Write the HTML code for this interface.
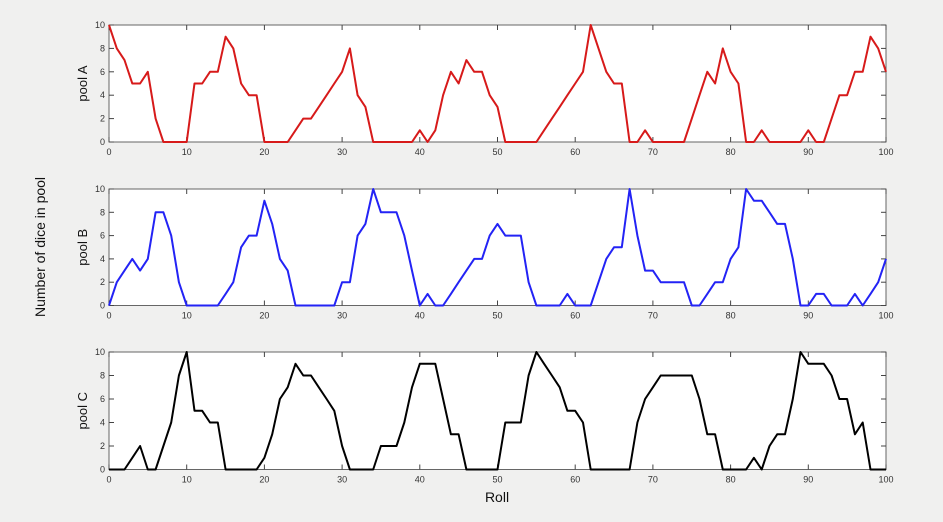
<!DOCTYPE html><html><head><style>body{margin:0;background:#f0f0ef}svg{display:block}text{font-family:"Liberation Sans",sans-serif}</style></head><body>
<svg id="s" width="943" height="522" xmlns="http://www.w3.org/2000/svg"></svg>
<script>
const A=[10,8,7,5,5,6,2,0,0,0,0,5,5,6,6,9,8,5,4,4,0,0,0,0,1,2,2,3,4,5,6,8,4,3,0,0,0,0,0,0,1,0,1,4,6,5,7,6,6,4,3,0,0,0,0,0,1,2,3,4,5,6,10,8,6,5,5,0,0,1,0,0,0,0,0,2,4,6,5,8,6,5,0,0,1,0,0,0,0,0,1,0,0,2,4,4,6,6,9,8,6];
const B=[0,2,3,4,3,4,8,8,6,2,0,0,0,0,0,1,2,5,6,6,9,7,4,3,0,0,0,0,0,0,2,2,6,7,10,8,8,8,6,3,0,1,0,0,1,2,3,4,4,6,7,6,6,6,2,0,0,0,0,1,0,0,0,2,4,5,5,10,6,3,3,2,2,2,2,0,0,1,2,2,4,5,10,9,9,8,7,7,4,0,0,1,1,0,0,0,1,0,1,2,4];
const C=[0,0,0,1,2,0,0,2,4,8,10,5,5,4,4,0,0,0,0,0,1,3,6,7,9,8,8,7,6,5,2,0,0,0,0,2,2,2,4,7,9,9,9,6,3,3,0,0,0,0,0,4,4,4,8,10,9,8,7,5,5,4,0,0,0,0,0,0,4,6,7,8,8,8,8,8,6,3,3,0,0,0,0,1,0,2,3,3,6,10,9,9,9,8,6,6,3,4,0,0,0];
const x0=109,x1=886;let h='';
const P=[[A,25,142,'#d71a1a','pool A'],[B,189,305.5,'#2323f5','pool B'],[C,352,469.5,'#000','pool C']];
for(const [d,t,b,c,l] of P){
 h+=`<rect x="${x0}" y="${t}" width="${x1-x0}" height="${b-t}" fill="#fff" stroke="#666" stroke-width="1"/>`;
 for(let i=0;i<=10;i++){const x=x0+(x1-x0)*i/10;h+=`<line x1="${x}" y1="${b}" x2="${x}" y2="${b-5}" stroke="#444"/><line x1="${x}" y1="${t}" x2="${x}" y2="${t+5}" stroke="#444"/><text x="${x}" y="${b+13}" font-size="9" fill="#333" text-anchor="middle">${i*10}</text>`;}
 for(let v=0;v<=10;v+=2){const y=b-(b-t)*v/10;h+=`<line x1="${x0}" y1="${y}" x2="${x0+5}" y2="${y}" stroke="#444"/><line x1="${x1}" y1="${y}" x2="${x1-5}" y2="${y}" stroke="#444"/><text x="${x0-4}" y="${y+3}" font-size="9" fill="#333" text-anchor="end">${v}</text>`;}
 h+=`<polyline fill="none" stroke="${c}" stroke-width="2" stroke-linejoin="round" points="${d.map((v,i)=>(x0+(x1-x0)*i/100).toFixed(1)+','+(b-(b-t)*v/10).toFixed(1)).join(' ')}"/>`;
 h+=`<text transform="translate(87,${(t+b)/2}) rotate(-90)" font-size="13" fill="#111" text-anchor="middle">${l}</text>`;
}
h+=`<text transform="translate(45,247) rotate(-90)" font-size="14" fill="#111" text-anchor="middle">Number of dice in pool</text>`;
h+=`<text x="497" y="502" font-size="14" fill="#111" text-anchor="middle">Roll</text>`;
document.getElementById('s').innerHTML=h;
</script></body></html>
